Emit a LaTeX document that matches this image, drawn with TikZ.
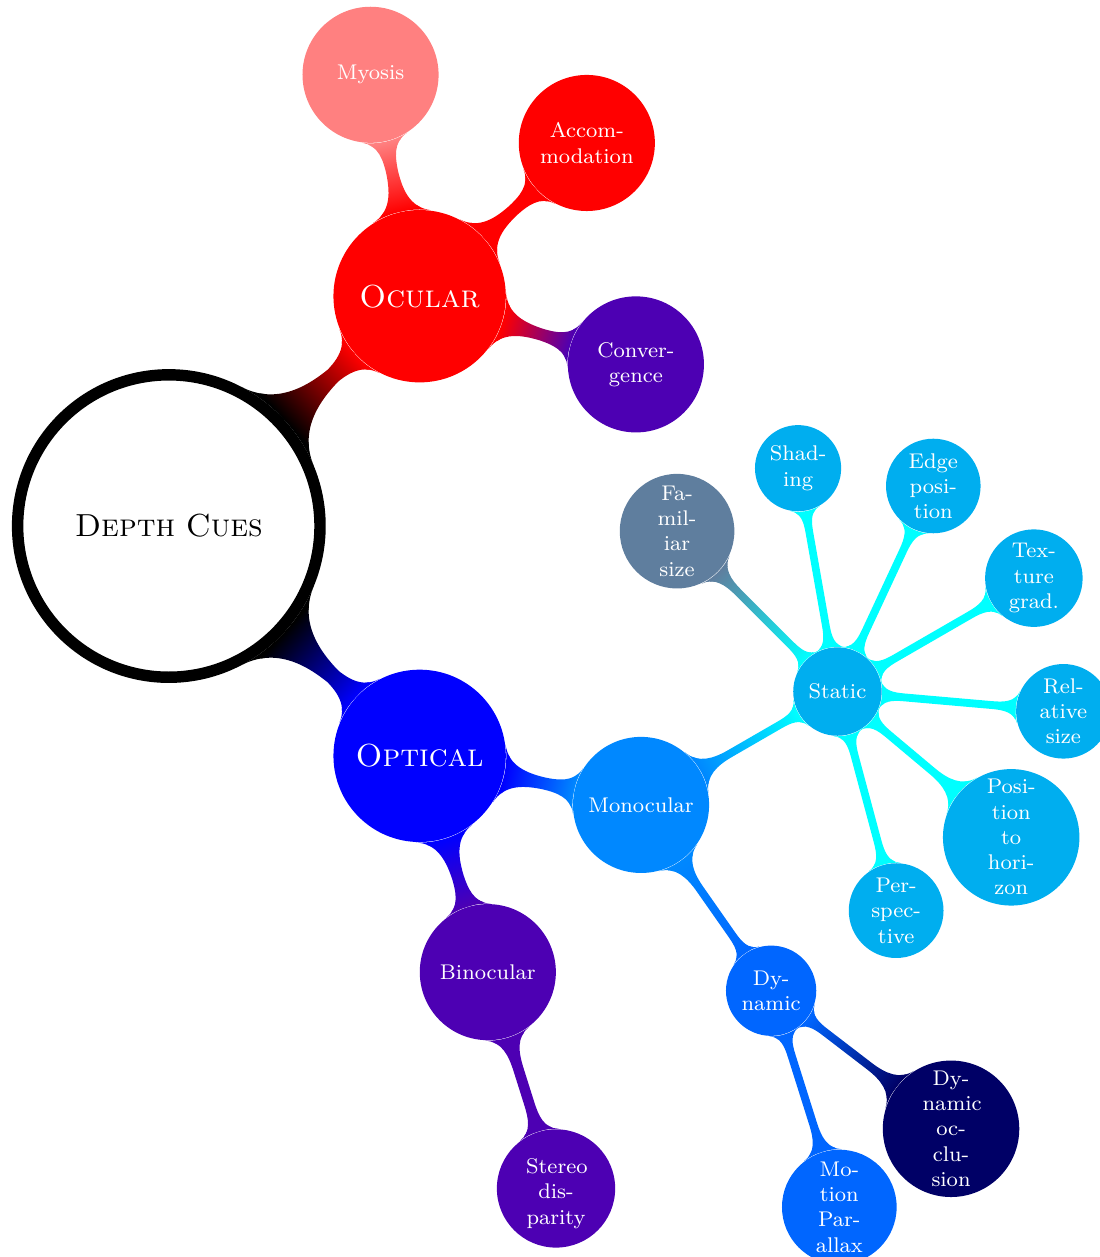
\documentclass[tikz,border=0pt]{standalone}
\usepackage{tikz}
\usetikzlibrary{calc, mindmap}

\hyphenation{rel-ative}

\definecolor{ocularred}{RGB}{255,0,0}
\definecolor{myosisred}{RGB}{255,128,128}
\definecolor{binocviolet}{RGB}{77,0,179}
\definecolor{opticalblue}{RGB}{0,0,255}
\definecolor{monocblue}{RGB}{0,136,255}
\definecolor{dynblue}{RGB}{0,102,255}
\definecolor{occlnavy}{RGB}{0,0,102}
\definecolor{staticcyan}{RGB}{0,255,255}
\definecolor{staticfill}{RGB}{0,174,239}
\definecolor{familiarfill}{RGB}{95,126,158}

\tikzstyle{bubble} = [circle, text=white, align=center, execute at begin node=\hskip0pt]
\tikzstyle{rootbubble} = [bubble, draw=black, fill=white, text=black, line width=1ex, minimum size=4cm, text width=3.5cm, font=\large\scshape]
\tikzstyle{groupbubble} = [bubble, minimum size=2.28cm, text width=2cm, inner sep=0pt, font=\large\scshape]
\tikzstyle{kindbubble} = [bubble, minimum size=1.8cm, text width=1.45cm, inner sep=0pt, font=\footnotesize]
\tikzstyle{cuebubble} = [bubble, minimum size=1.17cm, text width=0.79cm, inner sep=2.5pt, font=\footnotesize]
\tikzstyle{subcuebubble} = [bubble, minimum size=1.14cm, text width=0.75cm, inner sep=1.1pt, font=\footnotesize]

\begin{document}
\begin{tikzpicture}

        \useasboundingbox (-2.233, -9.669) rectangle (12.317, 6.958);

        \node[rootbubble] (depth) at (0, 0) {Depth Cues};

        \node[groupbubble, fill=ocularred] (ocular) at (42.5:4.5) {Ocular};
        \node[groupbubble, fill=opticalblue] (optical) at (-42.5:4.5) {Optical};

        \node[kindbubble, fill=myosisred] (myosis) at ($(ocular)+(102.5:3)$) {Myosis};
        \node[kindbubble, fill=ocularred] (accommodation) at ($(ocular)+(42.5:3)$) {Accommodation};
        \node[kindbubble, fill=binocviolet] (convergence) at ($(ocular)+(-17.5:3)$) {Convergence};

        \node[kindbubble, fill=monocblue] (monocular) at ($(optical)+(-12.5:3)$) {Monocular};
        \node[kindbubble, fill=binocviolet] (binocular) at ($(optical)+(-72.5:3)$) {Binocular};
        \node[cuebubble, fill=binocviolet] (stereo) at ($(binocular)+(-72.5:3)$) {Stereo disparity};

        \node[cuebubble, fill=staticfill] (static) at ($(monocular)+(30:3)$) {Static};
        \node[cuebubble, fill=dynblue] (dynamic) at ($(monocular)+(-55:3)$) {Dynamic};

        \node[subcuebubble, fill=dynblue] (parallax) at ($(dynamic)+(-72.5:3)$) {Motion Parallax};
        \node[subcuebubble, fill=occlnavy] (occlusion) at ($(dynamic)+(-37.5:3)$) {Dynamic occlusion};

        \node[subcuebubble, fill=familiarfill] (familiar) at ($(static)+(135:3)$) {Familiar size};
        \node[subcuebubble, fill=staticfill] (shading) at ($(static)+(100:3)$) {Shading};
        \node[subcuebubble, fill=staticfill] (edge) at ($(static)+(65:3)$) {Edge position};
        \node[subcuebubble, fill=staticfill] (texture) at ($(static)+(30:3)$) {Texture grad.};
        \node[subcuebubble, fill=staticfill] (relative) at ($(static)+(-5:3)$) {Relative size};
        \node[subcuebubble, fill=staticfill] (horizon) at ($(static)+(-40:3)$) {Position to horizon};
        \node[subcuebubble, fill=staticfill] (perspective) at ($(static)+(-75:3)$) {Perspective};

        \path[line width=6pt] (depth) to[circle connection bar switch color=from (black) to (ocularred)] (ocular);
        \path[line width=6pt] (depth) to[circle connection bar switch color=from (black) to (opticalblue)] (optical);

        \path[line width=4pt] (ocular) to[circle connection bar switch color=from (ocularred) to (myosisred)] (myosis);
        \path[line width=4pt] (ocular) to[circle connection bar switch color=from (ocularred) to (ocularred)] (accommodation);
        \path[line width=4pt] (ocular) to[circle connection bar switch color=from (ocularred) to (binocviolet)] (convergence);
        \path[line width=4pt] (optical) to[circle connection bar switch color=from (opticalblue) to (monocblue)] (monocular);
        \path[line width=4pt] (optical) to[circle connection bar switch color=from (opticalblue) to (binocviolet)] (binocular);

        \path[line width=3.2pt] (binocular) to[circle connection bar switch color=from (binocviolet) to (binocviolet)] (stereo);
        \path[line width=3.2pt] (monocular) to[circle connection bar switch color=from (monocblue) to (staticcyan)] (static);
        \path[line width=3.2pt] (monocular) to[circle connection bar switch color=from (monocblue) to (dynblue)] (dynamic);

        \path[line width=3pt] (dynamic) to[circle connection bar switch color=from (dynblue) to (dynblue)] (parallax);
        \path[line width=3pt] (dynamic) to[circle connection bar switch color=from (dynblue) to (occlnavy)] (occlusion);

        \path[line width=3pt] (static) to[circle connection bar switch color=from (staticcyan) to (familiarfill)] (familiar);
        \path[line width=3pt] (static) to[circle connection bar switch color=from (staticcyan) to (staticcyan)] (shading);
        \path[line width=3pt] (static) to[circle connection bar switch color=from (staticcyan) to (staticcyan)] (edge);
        \path[line width=3pt] (static) to[circle connection bar switch color=from (staticcyan) to (staticcyan)] (texture);
        \path[line width=3pt] (static) to[circle connection bar switch color=from (staticcyan) to (staticcyan)] (relative);
        \path[line width=3pt] (static) to[circle connection bar switch color=from (staticcyan) to (staticcyan)] (horizon);
        \path[line width=3pt] (static) to[circle connection bar switch color=from (staticcyan) to (staticcyan)] (perspective);

\end{tikzpicture}
\end{document}
